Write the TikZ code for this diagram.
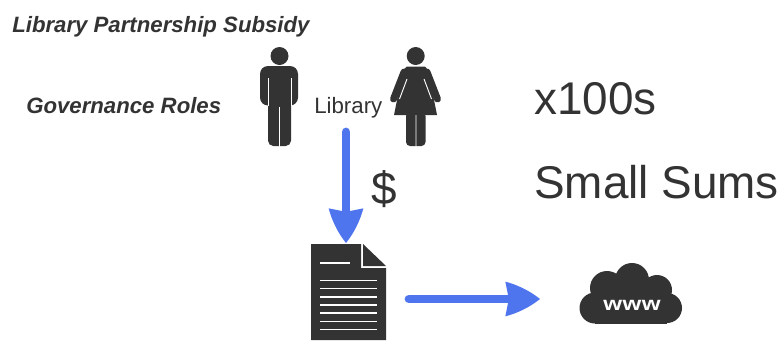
\documentclass[tikz,border=0pt]{standalone}
\usepackage{fontspec}
\setmainfont{Liberation Sans}
\usetikzlibrary{arrows.meta}
\definecolor{ink}{HTML}{333333}
\definecolor{flow}{HTML}{4F75EE}
\pgfdeclarearrow{
 name=Sail,
 setup code={
  \pgfarrowssettipend{0pt}
  \pgfarrowssetbackend{-26pt}
  \pgfarrowssetlineend{-21pt}
  \pgfarrowssetvisualbackend{-21pt}
  \pgfarrowshullpoint{0pt}{0pt}
  \pgfarrowshullpoint{-26pt}{13pt}
  \pgfarrowshullpoint{-26pt}{-13pt}
 },
 drawing code={
  \pgfpathmoveto{\pgfqpoint{0pt}{0pt}}
  \pgfpathcurveto{\pgfqpoint{-8pt}{6.5pt}}{\pgfqpoint{-18pt}{11pt}}{\pgfqpoint{-26pt}{13pt}}
  \pgfpathlineto{\pgfqpoint{-23.4pt}{0pt}}
  \pgfpathlineto{\pgfqpoint{-26pt}{-13pt}}
  \pgfpathcurveto{\pgfqpoint{-18pt}{-11pt}}{\pgfqpoint{-8pt}{-6.5pt}}{\pgfqpoint{0pt}{0pt}}
  \pgfpathclose
  \pgfusepathqfill
 },
 defaults={}
}
\tikzset{
 x=0.75pt,y=-0.75pt,
 lab/.style={inner sep=0pt,text=ink,anchor=base west},
 hlab/.style={lab,font=\bfseries\itshape\fontsize{16.65pt}{20pt}\selectfont},
 big/.style={lab,font=\fontsize{34.4pt}{40pt}\selectfont},
 small/.style={lab,font=\fontsize{16.7pt}{20pt}\selectfont},
 gap/.style={draw=white,line width=0.7pt},
 limb/.style={draw=ink,line width=5.2pt,line cap=round},
 flowarrow/.style={draw=flow,line width=6.6pt,line cap=round,-{Sail}},
}
\newfontfamily\wwwfont[FakeStretch=1.25,LetterSpace=2]{Liberation Sans Bold}
\begin{document}
\begin{tikzpicture}
\useasboundingbox (0,0) rectangle (782,340);
\fill[white] (0,0) rectangle (782,340);
\node[hlab] (title) at (12,32) {Library Partnership Subsidy};
\node[hlab] (gov) at (26,113) {Governance Roles};
\node[small] (lib) at (314,113) {Library};
\node[big] (x100) at (534,114) {x100s};
\node[big] (sums) at (534,198) {Small Sums};
\node[big] (dollar) at (371,204) {\$};
% man
\fill[ink] (279.5,56) circle (9);
\fill[ink,rounded corners=6pt] (260,66) rectangle (298,105.5);
\fill[ink,rounded corners=4pt] (268,95) rectangle (291,146);
\draw[gap] (268,78) -- (268,106) (291,78) -- (291,106) (279.7,107) -- (279.7,147);
% woman
\fill[ink] (415.7,56) circle (9);
\fill[ink] (407,66.5) -- (425,66.5) -- (428,70) -- (437,115) -- (394,115) -- (403,70) -- cycle;
\draw[limb] (404,72) -- (393.5,99);
\draw[limb] (427,72) -- (437.5,99);
\fill[ink,rounded corners=3pt] (406,112) rectangle (425.5,146);
\draw[gap] (416,115) -- (416,147) (407,79) -- (399.5,99) (424,79) -- (431.5,99);
% flow arrows
\coordinate (a1) at (346,132);
\coordinate (a2) at (346,243);
\coordinate (b1) at (409,299);
\coordinate (b2) at (540,299);
\path[flowarrow] (a1) -- (a2);
\path[flowarrow] (b1) -- (b2);
% document
\fill[ink] (311,244) -- (361,244) -- (361,268) -- (386,268) -- (386,340) -- (311,340) -- cycle;
\fill[ink] (363,244) -- (386,266) -- (363,266) -- cycle;
\draw[draw=white,line width=1.2pt] (320,263) -- (350,263)
 (320,280.3) -- (377,280.3) (320,288.6) -- (377,288.6) (320,296.7) -- (377,296.7) (320,305) -- (377,305)
 (320,313) -- (377,313) (320,321.3) -- (377,321.3) (320,329.5) -- (377,329.5);
% cloud
\fill[ink] (595,308) circle (15.5);
\fill[ink] (667,308) circle (15);
\fill[ink] (607,288) circle (17);
\fill[ink] (632,280) circle (17);
\fill[ink] (657,290) circle (15);
\fill[ink] (595,285) rectangle (667,323.5);
\node[inner sep=0pt,text=white,font=\wwwfont\fontsize{14.5pt}{16pt}\selectfont] (www) at (632,305) {www};
\end{tikzpicture}
\end{document}
